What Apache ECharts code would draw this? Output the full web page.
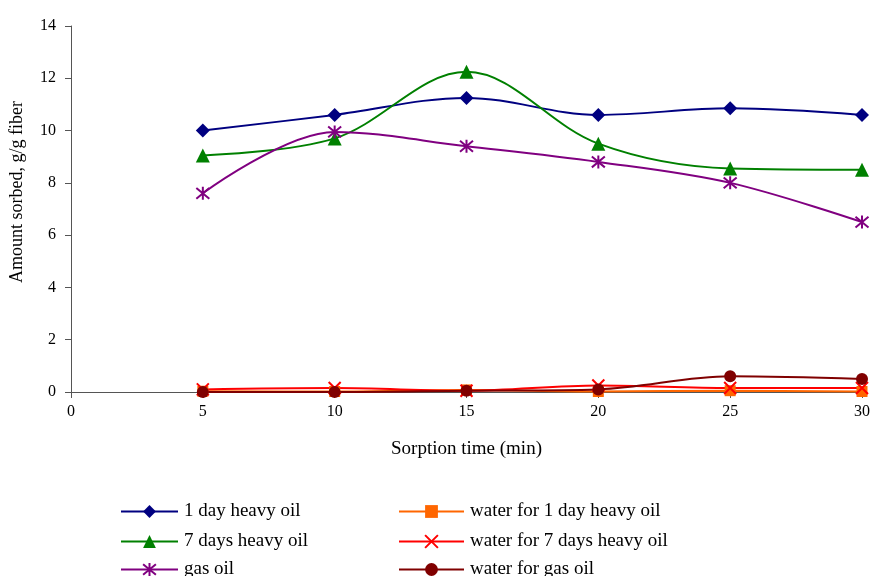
<!DOCTYPE html>
<html><head><meta charset="utf-8">
<script src="https://cdn.jsdelivr.net/npm/echarts@6/dist/echarts.min.js"></script>
<style>html,body{margin:0;padding:0;background:#fff}#c{width:875px;height:576px}</style>
</head><body><div id="c"></div>
<script>
const times = [5, 10, 15, 20, 25, 30];
const heavy1 = [10.0, 10.6, 11.25, 10.6, 10.85, 10.6];
const heavy7 = [9.05, 9.7, 12.25, 9.5, 8.55, 8.5];
const gasOil = [7.6, 9.95, 9.4, 8.8, 8.0, 6.5];
const water1 = [0.03, 0.02, 0.08, 0.02, 0.05, 0.02];
const water7 = [0.1, 0.15, 0.05, 0.25, 0.15, 0.15];
const waterGas = [0.0, 0.0, 0.05, 0.1, 0.6, 0.5];
const names = ['1 day heavy oil','7 days heavy oil','gas oil','water for 1 day heavy oil','water for 7 days heavy oil','water for gas oil'];

const FONT = '"Liberation Serif", "Times New Roman", serif';
const pair = arr => times.map((t,i)=>[t,arr[i]]);
const STAR = 'path://M0,0L10,10M10,0L0,10M5,-1L5,11';
const XMARK = 'path://M0,0L10,10M10,0L0,10';

function ser(name, data, color, symbol, size, stroke){
  const s = {name, type:'line', data:pair(data), smooth:0.35, symbol, symbolSize:size,
    lineStyle:{color, width:2}, itemStyle:{color}, z:2};
  if (stroke){ s.itemStyle = {color:'none', borderColor:color, borderWidth:2}; }
  return s;
}
const legendPos = [[120,502],[120,532],[120,560],[398,502],[398,532],[398,560]];
const legends = names.map((n,i)=>({data:[n], orient:'horizontal', left:legendPos[i][0], top:legendPos[i][1],
  padding:0, itemWidth:i<3?57:65, itemHeight:16, itemGap:6,
  textStyle:{fontSize:19, fontFamily:FONT, color:'#000', padding:[0,0,0,1]}}));

const chart = echarts.init(document.getElementById('c'));
chart.setOption({
  animation:false,
  textStyle:{fontFamily:FONT},
  grid:{left:71, right:13, top:26, bottom:184, containLabel:false, outerBoundsMode:'none'},
  xAxis:{type:'value', min:0, max:30, interval:5,
    axisLine:{lineStyle:{color:'#555', width:1}}, axisTick:{inside:false, length:6, lineStyle:{color:'#555'}},
    splitLine:{show:false},
    axisLabel:{color:'#000', fontSize:16, fontFamily:FONT, margin:12},
    name:'Sorption time (min)', nameLocation:'middle', nameGap:48,
    nameTextStyle:{color:'#000', fontSize:19, fontFamily:FONT}},
  yAxis:{type:'value', min:0, max:14, interval:2,
    axisLine:{show:true, lineStyle:{color:'#555', width:1}}, axisTick:{show:true, length:6, lineStyle:{color:'#555'}},
    splitLine:{show:false},
    axisLabel:{color:'#000', fontSize:16, fontFamily:FONT, margin:15},
    name:'Amount sorbed, g/g fiber', nameLocation:'middle', nameGap:45,
    nameTextStyle:{color:'#000', fontSize:18, fontFamily:FONT, padding:[0,0,0,34]}},
  legend:legends,
  series:[
    ser(names[3], water1, '#FF6600', 'rect', 11),
    ser(names[4], water7, '#FF0000', XMARK, 12, true),
    ser(names[5], waterGas, '#800000', 'circle', 12),
    ser(names[0], heavy1, '#000080', 'diamond', 14),
    ser(names[1], heavy7, '#008000', 'triangle', 14),
    ser(names[2], gasOil, '#800080', STAR, 13, true)
  ]
});
</script></body></html>
